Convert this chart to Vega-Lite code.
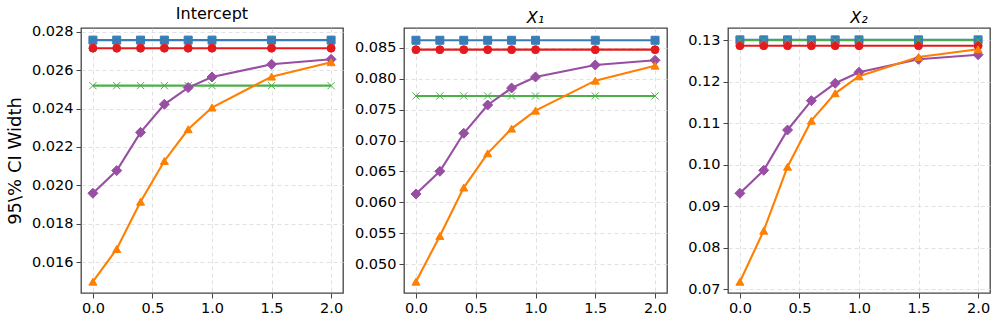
{
  "$schema": "https://vega.github.io/schema/vega-lite/v6.json",
  "background": "white",
  "padding": {"left": 5, "top": 5, "right": 5, "bottom": 5},
  "config": {
    "font": "DejaVu Sans",
    "view": {"stroke": "#444", "strokeWidth": 1.3},
    "axis": {
      "labelFont": "DejaVu Sans", "labelFontSize": 14.5, "labelColor": "#000",
      "titleFont": "DejaVu Sans", "titleFontWeight": "normal", "titleColor": "#000",
      "domain": false, "tickColor": "#444", "tickSize": 5, "tickWidth": 1, "labelPadding": 3,
      "grid": true, "gridColor": "#d9d9d9", "gridDash": [4, 3], "gridWidth": 0.8
    },
    "title": {"font": "DejaVu Sans", "fontSize": 16, "fontWeight": "normal", "color": "#000", "offset": 2},
    "line": {"strokeWidth": 2.1},
    "point": {"size": 64, "opacity": 1, "strokeWidth": 1}
  },
  "bounds": "flush",
  "spacing": 61,
  "data": {"values": [
    {"panel": "P1", "series": "A", "x": 0.0, "y": 0.02756}, {"panel": "P1", "series": "A", "x": 0.2, "y": 0.02756}, {"panel": "P1", "series": "A", "x": 0.4, "y": 0.02756}, {"panel": "P1", "series": "A", "x": 0.6, "y": 0.02756}, {"panel": "P1", "series": "A", "x": 0.8, "y": 0.02756}, {"panel": "P1", "series": "A", "x": 1.0, "y": 0.02756}, {"panel": "P1", "series": "A", "x": 1.5, "y": 0.02756}, {"panel": "P1", "series": "A", "x": 2.0, "y": 0.02756},
    {"panel": "P1", "series": "B", "x": 0.0, "y": 0.02714}, {"panel": "P1", "series": "B", "x": 0.2, "y": 0.02714}, {"panel": "P1", "series": "B", "x": 0.4, "y": 0.02714}, {"panel": "P1", "series": "B", "x": 0.6, "y": 0.02714}, {"panel": "P1", "series": "B", "x": 0.8, "y": 0.02714}, {"panel": "P1", "series": "B", "x": 1.0, "y": 0.02714}, {"panel": "P1", "series": "B", "x": 1.5, "y": 0.02714}, {"panel": "P1", "series": "B", "x": 2.0, "y": 0.02714},
    {"panel": "P1", "series": "C", "x": 0.0, "y": 0.02519}, {"panel": "P1", "series": "C", "x": 0.2, "y": 0.02519}, {"panel": "P1", "series": "C", "x": 0.4, "y": 0.02519}, {"panel": "P1", "series": "C", "x": 0.6, "y": 0.02519}, {"panel": "P1", "series": "C", "x": 0.8, "y": 0.02519}, {"panel": "P1", "series": "C", "x": 1.0, "y": 0.02519}, {"panel": "P1", "series": "C", "x": 1.5, "y": 0.02519}, {"panel": "P1", "series": "C", "x": 2.0, "y": 0.02519},
    {"panel": "P1", "series": "D", "x": 0.0, "y": 0.01959}, {"panel": "P1", "series": "D", "x": 0.2, "y": 0.02077}, {"panel": "P1", "series": "D", "x": 0.4, "y": 0.02276}, {"panel": "P1", "series": "D", "x": 0.6, "y": 0.02422}, {"panel": "P1", "series": "D", "x": 0.8, "y": 0.02509}, {"panel": "P1", "series": "D", "x": 1.0, "y": 0.02564}, {"panel": "P1", "series": "D", "x": 1.5, "y": 0.0263}, {"panel": "P1", "series": "D", "x": 2.0, "y": 0.02656},
    {"panel": "P1", "series": "E", "x": 0.0, "y": 0.01499}, {"panel": "P1", "series": "E", "x": 0.2, "y": 0.01669}, {"panel": "P1", "series": "E", "x": 0.4, "y": 0.01915}, {"panel": "P1", "series": "E", "x": 0.6, "y": 0.02127}, {"panel": "P1", "series": "E", "x": 0.8, "y": 0.02292}, {"panel": "P1", "series": "E", "x": 1.0, "y": 0.02405}, {"panel": "P1", "series": "E", "x": 1.5, "y": 0.02566}, {"panel": "P1", "series": "E", "x": 2.0, "y": 0.02641},
    {"panel": "P2", "series": "A", "x": 0.0, "y": 0.0862}, {"panel": "P2", "series": "A", "x": 0.2, "y": 0.0862}, {"panel": "P2", "series": "A", "x": 0.4, "y": 0.0862}, {"panel": "P2", "series": "A", "x": 0.6, "y": 0.0862}, {"panel": "P2", "series": "A", "x": 0.8, "y": 0.0862}, {"panel": "P2", "series": "A", "x": 1.0, "y": 0.0862}, {"panel": "P2", "series": "A", "x": 1.5, "y": 0.0862}, {"panel": "P2", "series": "A", "x": 2.0, "y": 0.0862},
    {"panel": "P2", "series": "B", "x": 0.0, "y": 0.08468}, {"panel": "P2", "series": "B", "x": 0.2, "y": 0.08468}, {"panel": "P2", "series": "B", "x": 0.4, "y": 0.08468}, {"panel": "P2", "series": "B", "x": 0.6, "y": 0.08468}, {"panel": "P2", "series": "B", "x": 0.8, "y": 0.08468}, {"panel": "P2", "series": "B", "x": 1.0, "y": 0.08468}, {"panel": "P2", "series": "B", "x": 1.5, "y": 0.08468}, {"panel": "P2", "series": "B", "x": 2.0, "y": 0.08468},
    {"panel": "P2", "series": "C", "x": 0.0, "y": 0.0772}, {"panel": "P2", "series": "C", "x": 0.2, "y": 0.0772}, {"panel": "P2", "series": "C", "x": 0.4, "y": 0.0772}, {"panel": "P2", "series": "C", "x": 0.6, "y": 0.0772}, {"panel": "P2", "series": "C", "x": 0.8, "y": 0.0772}, {"panel": "P2", "series": "C", "x": 1.0, "y": 0.0772}, {"panel": "P2", "series": "C", "x": 1.5, "y": 0.0772}, {"panel": "P2", "series": "C", "x": 2.0, "y": 0.0772},
    {"panel": "P2", "series": "D", "x": 0.0, "y": 0.06136}, {"panel": "P2", "series": "D", "x": 0.2, "y": 0.06503}, {"panel": "P2", "series": "D", "x": 0.4, "y": 0.07117}, {"panel": "P2", "series": "D", "x": 0.6, "y": 0.07574}, {"panel": "P2", "series": "D", "x": 0.8, "y": 0.07849}, {"panel": "P2", "series": "D", "x": 1.0, "y": 0.08026}, {"panel": "P2", "series": "D", "x": 1.5, "y": 0.0822}, {"panel": "P2", "series": "D", "x": 2.0, "y": 0.08296},
    {"panel": "P2", "series": "E", "x": 0.0, "y": 0.04719}, {"panel": "P2", "series": "E", "x": 0.2, "y": 0.05458}, {"panel": "P2", "series": "E", "x": 0.4, "y": 0.0624}, {"panel": "P2", "series": "E", "x": 0.6, "y": 0.06793}, {"panel": "P2", "series": "E", "x": 0.8, "y": 0.07192}, {"panel": "P2", "series": "E", "x": 1.0, "y": 0.07482}, {"panel": "P2", "series": "E", "x": 1.5, "y": 0.07967}, {"panel": "P2", "series": "E", "x": 2.0, "y": 0.08209},
    {"panel": "P3", "series": "A", "x": 0.0, "y": 0.1301}, {"panel": "P3", "series": "A", "x": 0.2, "y": 0.1301}, {"panel": "P3", "series": "A", "x": 0.4, "y": 0.1301}, {"panel": "P3", "series": "A", "x": 0.6, "y": 0.1301}, {"panel": "P3", "series": "A", "x": 0.8, "y": 0.1301}, {"panel": "P3", "series": "A", "x": 1.0, "y": 0.1301}, {"panel": "P3", "series": "A", "x": 1.5, "y": 0.1301}, {"panel": "P3", "series": "A", "x": 2.0, "y": 0.1301},
    {"panel": "P3", "series": "B", "x": 0.0, "y": 0.1287}, {"panel": "P3", "series": "B", "x": 0.2, "y": 0.1287}, {"panel": "P3", "series": "B", "x": 0.4, "y": 0.1287}, {"panel": "P3", "series": "B", "x": 0.6, "y": 0.1287}, {"panel": "P3", "series": "B", "x": 0.8, "y": 0.1287}, {"panel": "P3", "series": "B", "x": 1.0, "y": 0.1287}, {"panel": "P3", "series": "B", "x": 1.5, "y": 0.1287}, {"panel": "P3", "series": "B", "x": 2.0, "y": 0.1287},
    {"panel": "P3", "series": "C", "x": 0.0, "y": 0.13}, {"panel": "P3", "series": "C", "x": 0.2, "y": 0.13}, {"panel": "P3", "series": "C", "x": 0.4, "y": 0.13}, {"panel": "P3", "series": "C", "x": 0.6, "y": 0.13}, {"panel": "P3", "series": "C", "x": 0.8, "y": 0.13}, {"panel": "P3", "series": "C", "x": 1.0, "y": 0.13}, {"panel": "P3", "series": "C", "x": 1.5, "y": 0.13}, {"panel": "P3", "series": "C", "x": 2.0, "y": 0.13},
    {"panel": "P3", "series": "D", "x": 0.0, "y": 0.09313}, {"panel": "P3", "series": "D", "x": 0.2, "y": 0.09867}, {"panel": "P3", "series": "D", "x": 0.4, "y": 0.10839}, {"panel": "P3", "series": "D", "x": 0.6, "y": 0.11545}, {"panel": "P3", "series": "D", "x": 0.8, "y": 0.11964}, {"panel": "P3", "series": "D", "x": 1.0, "y": 0.12229}, {"panel": "P3", "series": "D", "x": 1.5, "y": 0.12542}, {"panel": "P3", "series": "D", "x": 2.0, "y": 0.12653},
    {"panel": "P3", "series": "E", "x": 0.0, "y": 0.07183}, {"panel": "P3", "series": "E", "x": 0.2, "y": 0.08412}, {"panel": "P3", "series": "E", "x": 0.4, "y": 0.09954}, {"panel": "P3", "series": "E", "x": 0.6, "y": 0.11063}, {"panel": "P3", "series": "E", "x": 0.8, "y": 0.11723}, {"panel": "P3", "series": "E", "x": 1.0, "y": 0.12133}, {"panel": "P3", "series": "E", "x": 1.5, "y": 0.12598}, {"panel": "P3", "series": "E", "x": 2.0, "y": 0.12783}
  ]},
  "hconcat": [
    {
      "width": 262, "height": 265,
      "title": {"text": "Intercept"},
      "transform": [{"filter": "datum.panel === 'P1'"}],
      "encoding": {
        "x": {"field": "x", "type": "quantitative", "scale": {"domain": [-0.1, 2.1], "nice": false, "zero": false}, "axis": {"values": [0, 0.5, 1, 1.5, 2], "format": ".1f", "title": null}},
        "y": {"field": "y", "type": "quantitative", "scale": {"domain": [0.0144, 0.02819], "nice": false, "zero": false}, "axis": {"values": [0.016, 0.018, 0.02, 0.022, 0.024, 0.026, 0.028], "format": ".3f", "title": "95\\% CI Width", "titleFontSize": 18, "titlePadding": 7}},
        "color": {"field": "series", "type": "nominal", "scale": {"domain": ["A", "B", "C", "D", "E"], "range": ["#377eb8", "#e41a1c", "#4daf4a", "#984ea3", "#ff7f00"]}, "legend": null}
      },
      "layer": [
        {"mark": {"type": "line"}, "encoding": {"detail": {"field": "series"}}},
        {"mark": {"type": "point", "filled": true},
         "encoding": {
           "stroke": {"field": "series", "type": "nominal", "scale": {"domain": ["A", "B", "C", "D", "E"], "range": ["#377eb8", "#e41a1c", "#4daf4a", "#984ea3", "#ff7f00"]}, "legend": null},
           "shape": {"field": "series", "type": "nominal", "scale": {"domain": ["A", "B", "C", "D", "E"], "range": ["square", "circle", "M-0.9,-0.9L0.9,0.9M0.9,-0.9L-0.9,0.9", "M0,-1.25L1.25,0L0,1.25L-1.25,0Z", "triangle-up"]}, "legend": null}
         }}
      ]
    },
    {
      "width": 263, "height": 265,
      "title": {"text": "X₁", "fontStyle": "italic"},
      "transform": [{"filter": "datum.panel === 'P2'"}],
      "encoding": {
        "x": {"field": "x", "type": "quantitative", "scale": {"domain": [-0.1, 2.1], "nice": false, "zero": false}, "axis": {"values": [0, 0.5, 1, 1.5, 2], "format": ".1f", "title": null}},
        "y": {"field": "y", "type": "quantitative", "scale": {"domain": [0.04536, 0.08818], "nice": false, "zero": false}, "axis": {"values": [0.05, 0.055, 0.06, 0.065, 0.07, 0.075, 0.08, 0.085], "format": ".3f", "title": null}},
        "color": {"field": "series", "type": "nominal", "scale": {"domain": ["A", "B", "C", "D", "E"], "range": ["#377eb8", "#e41a1c", "#4daf4a", "#984ea3", "#ff7f00"]}, "legend": null}
      },
      "layer": [
        {"mark": {"type": "line"}, "encoding": {"detail": {"field": "series"}}},
        {"mark": {"type": "point", "filled": true},
         "encoding": {
           "stroke": {"field": "series", "type": "nominal", "scale": {"domain": ["A", "B", "C", "D", "E"], "range": ["#377eb8", "#e41a1c", "#4daf4a", "#984ea3", "#ff7f00"]}, "legend": null},
           "shape": {"field": "series", "type": "nominal", "scale": {"domain": ["A", "B", "C", "D", "E"], "range": ["square", "circle", "M-0.9,-0.9L0.9,0.9M0.9,-0.9L-0.9,0.9", "M0,-1.25L1.25,0L0,1.25L-1.25,0Z", "triangle-up"]}, "legend": null}
         }}
      ]
    },
    {
      "width": 262, "height": 265,
      "title": {"text": "X₂", "fontStyle": "italic"},
      "transform": [{"filter": "datum.panel === 'P3'"}],
      "encoding": {
        "x": {"field": "x", "type": "quantitative", "scale": {"domain": [-0.1, 2.1], "nice": false, "zero": false}, "axis": {"values": [0, 0.5, 1, 1.5, 2], "format": ".1f", "title": null}},
        "y": {"field": "y", "type": "quantitative", "scale": {"domain": [0.06911, 0.13296], "nice": false, "zero": false}, "axis": {"values": [0.07, 0.08, 0.09, 0.1, 0.11, 0.12, 0.13], "format": ".2f", "title": null}},
        "color": {"field": "series", "type": "nominal", "scale": {"domain": ["A", "B", "C", "D", "E"], "range": ["#377eb8", "#e41a1c", "#4daf4a", "#984ea3", "#ff7f00"]}, "legend": null}
      },
      "layer": [
        {"mark": {"type": "line"}, "encoding": {"detail": {"field": "series"}}},
        {"mark": {"type": "point", "filled": true},
         "encoding": {
           "stroke": {"field": "series", "type": "nominal", "scale": {"domain": ["A", "B", "C", "D", "E"], "range": ["#377eb8", "#e41a1c", "#4daf4a", "#984ea3", "#ff7f00"]}, "legend": null},
           "shape": {"field": "series", "type": "nominal", "scale": {"domain": ["A", "B", "C", "D", "E"], "range": ["square", "circle", "M-0.9,-0.9L0.9,0.9M0.9,-0.9L-0.9,0.9", "M0,-1.25L1.25,0L0,1.25L-1.25,0Z", "triangle-up"]}, "legend": null}
         }}
      ]
    }
  ],
  "resolve": {"scale": {"y": "independent", "color": "independent", "shape": "independent", "stroke": "independent"}}
}
